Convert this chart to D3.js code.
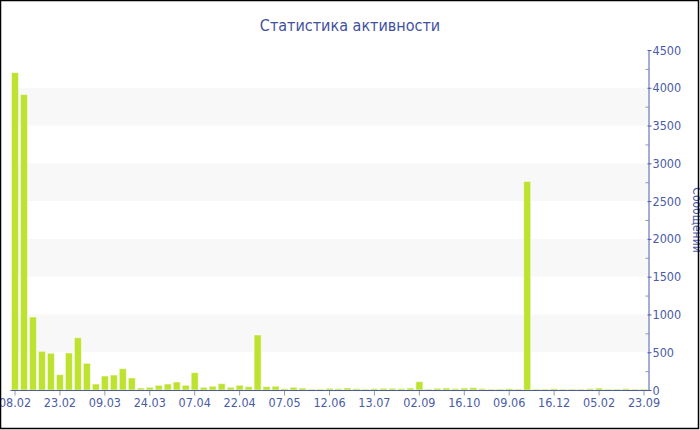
<!DOCTYPE html>
<html>
<head>
<meta charset="utf-8">
<script src="https://cdn.jsdelivr.net/npm/d3@7"></script>
<style>
    body { margin: 0; background: #fff; }
    #activity-chart text { font-family: "DejaVu Sans Condensed", "DejaVu Sans", sans-serif; }
</style>
</head>
<body>
<div id="activity-chart"></div>
<script>
// messages per period
var messages = [
    4200, 3910, 966, 512, 486, 203, 490, 692, 353, 79,
    185, 198, 282, 159, 26, 35, 62, 79, 106, 62,
    229, 35, 49, 84, 35, 62, 44, 728, 44, 49,
    18, 35, 26, 13, 13, 22, 18, 26, 18, 13,
    18, 22, 22, 18, 26, 110, 13, 22, 26, 18,
    26, 31, 18, 13, 13, 18, 13, 2760, 13, 13,
    18, 13, 13, 13, 18, 26, 13, 13, 18, 13, 13
];
// labels shown under every 5th bar
var tickLabels = ['08.02', '23.02', '09.03', '24.03', '07.04', '22.04', '07.05', '12.06',
    '13.07', '02.09', '16.10', '09.06', '16.12', '05.02', '23.09'];
var yTicks = [0, 500, 1000, 1500, 2000, 2500, 3000, 3500, 4000, 4500];

var width = 700, height = 430;
var margin = {top: 50, right: 51, bottom: 40, left: 10.5};
var blue = '#4a5ca6';

var svg = d3.select('#activity-chart').append('svg')
    .attr('width', width)
    .attr('height', height);

var x = d3.scaleBand()
    .domain(d3.range(messages.length))
    .range([margin.left, width - margin.right - 0.5])
    .paddingInner(0.22)
    .paddingOuter(0.11);

var y = d3.scaleLinear()
    .domain([0, 4500])
    .range([height - margin.bottom, margin.top]);

var axisX = width - margin.right - 0.5;

// alternating grid bands
svg.append('g').selectAll('rect')
    .data([500, 1500, 2500, 3500])
    .enter().append('rect')
    .attr('x', margin.left)
    .attr('width', axisX - margin.left)
    .attr('y', function(d) { return y(d + 500); })
    .attr('height', function(d) { return y(d) - y(d + 500); })
    .style('fill', '#f8f8f8');

// title
svg.append('text')
    .attr('x', width / 2)
    .attr('y', 31)
    .style('text-anchor', 'middle')
    .style('font-size', '16px')
    .style('fill', '#3f51a0')
    .text('Статистика активности');

// bars
svg.append('g').selectAll('rect')
    .data(messages)
    .enter().append('rect')
    .attr('x', function(d, i) { return x(i); })
    .attr('width', x.bandwidth())
    .attr('y', function(d) { return y(d); })
    .attr('height', function(d) { return y(0) - y(d); })
    .style('fill', '#bde22f')
    .style('stroke', '#fff')
    .style('stroke-opacity', 0.5)
    .style('stroke-width', 1);

// x axis
var xAxis = d3.axisBottom(x)
    .tickValues(d3.range(0, messages.length, 5))
    .tickFormat(function(d) { return tickLabels[d / 5]; })
    .tickSize(5)
    .tickSizeOuter(0);

var gx = svg.append('g')
    .attr('transform', 'translate(0,' + (y(0) + 0.5) + ')')
    .call(xAxis);
gx.select('.domain').remove();
gx.selectAll('.tick line').style('stroke', '#999');
gx.selectAll('.tick text')
    .attr('y', 8)
    .style('font-size', '12.5px')
    .style('fill', blue);
svg.append('line')
    .attr('x1', margin.left)
    .attr('x2', axisX)
    .attr('y1', y(0) + 0.5)
    .attr('y2', y(0) + 0.5)
    .style('stroke', blue);

// y axis on the right
var yMinor = d3.axisRight(y)
    .tickValues(d3.range(250, 4500, 500))
    .tickSize(-3)
    .tickFormat('');
var gyMinor = svg.append('g')
    .attr('transform', 'translate(' + axisX + ',0)')
    .call(yMinor);
gyMinor.select('.domain').remove();
gyMinor.selectAll('.tick line').style('stroke', '#8894c4');

var yAxis = d3.axisRight(y)
    .tickValues(yTicks)
    .tickFormat(d3.format('d'))
    .tickSize(3)
    .tickPadding(1)
    .tickSizeOuter(0);
var gy = svg.append('g')
    .attr('transform', 'translate(' + axisX + ',0)')
    .call(yAxis);
gy.select('.domain').style('stroke', blue);
gy.selectAll('.tick line').attr('x1', -1).style('stroke', blue);
gy.selectAll('.tick text')
    .style('font-size', '12.5px')
    .style('fill', blue);

svg.append('text')
    .attr('transform', 'translate(692.5,' + y(2250) + ') rotate(90)')
    .style('text-anchor', 'middle')
    .style('font-size', '12px')
    .style('fill', blue)
    .text('Сообщений');

// frame
svg.append('rect')
    .attr('x', 0.5)
    .attr('y', 0.5)
    .attr('width', 698)
    .attr('height', 428)
    .style('fill', 'none')
    .style('stroke', '#000')
    .style('stroke-width', 1.5);
</script>
</body>
</html>
